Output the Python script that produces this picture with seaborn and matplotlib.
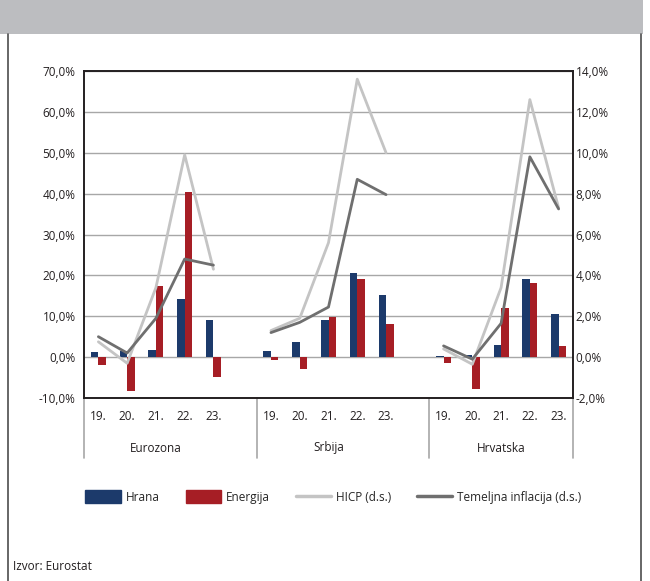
import numpy as np
import pandas as pd
import matplotlib
matplotlib.use("Agg")
import matplotlib.pyplot as plt
import seaborn as sns
from matplotlib.lines import Line2D
from matplotlib.patches import Patch, Rectangle

# data (left axis: bars, right axis: lines)
grupe = ['Eurozona', 'Srbija', 'Hrvatska']
godine = ['19.', '20.', '21.', '22.', '23.']
hrana = [1.2, 1.5, 1.8, 14.2, 9.1,
         1.5, 3.7, 9.1, 20.6, 15.1,
         0.2, 0.6, 3.0, 19.2, 10.6]
energija = [-2.0, -8.3, 17.3, 40.5, -4.9,
            -0.6, -2.9, 9.7, 19.2, 8.2,
            -1.4, -7.7, 11.9, 18.2, 2.7]
hicp = [0.75, -0.3, 3.4, 9.9, 4.3,
        1.3, 1.9, 5.6, 13.6, 10.0,
        0.4, -0.35, 3.4, 12.6, 7.3]
temeljna = [1.0, 0.2, 1.9, 4.8, 4.5,
            1.2, 1.7, 2.45, 8.7, 7.95,
            0.55, -0.1, 1.65, 9.8, 7.25]

col_hrana = '#1c3a6b'
col_energija = '#a61e25'
col_hicp = '#c4c4c4'
col_tem = '#6f6f6f'

# category slots: each group gets 5 years, plus an empty slot between groups
order = []
for i, g in enumerate(grupe):
    order += [g + ' ' + y for y in godine]
    if i < len(grupe) - 1:
        order.append(g + ' _')

rows = []
k = 0
for g in grupe:
    for y in godine:
        rows.append({'kat': g + ' ' + y, 'serija': 'Hrana', 'v': hrana[k]})
        rows.append({'kat': g + ' ' + y, 'serija': 'Energija', 'v': energija[k]})
        k += 1
bars = pd.DataFrame(rows)

lrows = []
k = 0
for g in grupe:
    for y in godine:
        lrows.append({'grupa': g, 'pos': order.index(g + ' ' + y),
                      'hicp': hicp[k], 'temeljna': temeljna[k]})
        k += 1
lines = pd.DataFrame(lrows)

sns.set_style('white')
plt.rcParams['font.family'] = ['Open Sans', 'DejaVu Sans']
plt.rcParams['font.size'] = 8.5

fig = plt.figure(figsize=(6.5, 5.81), dpi=100)
ax = fig.add_axes([84/650, 1-398/581, (573-84)/650, (398-71)/581])

sns.barplot(data=bars, x='kat', y='v', hue='serija', order=order,
            hue_order=['Hrana', 'Energija'],
            palette=[col_hrana, col_energija], width=0.52, gap=0,
            saturation=1, legend=False, ax=ax, zorder=3, linewidth=0)

ax.set_ylim(-10, 70)
ax.set_xlim(-0.5, len(order) - 0.5)
ax.set_yticks(np.arange(-10, 71, 10))
ax.set_yticklabels([f'{v:.1f}%'.replace('.', ',') for v in np.arange(-10, 71, 10)],
                   color='#231f20')
ax.yaxis.grid(True, color='#a7a7a7', lw=1.0)
ax.set_axisbelow(True)
ax.set_xlabel('')
ax.set_ylabel('')
ax.tick_params(axis='y', length=0, pad=6)

xt = [order.index(g + ' ' + y) for g in grupe for y in godine]
ax.set_xticks(xt)
ax.set_xticklabels(godine * 3, color='#231f20')
ax.tick_params(axis='x', length=0, pad=9)

for s in ax.spines.values():
    s.set_color('#231f20')
    s.set_linewidth(1.2)

# twin axis for the inflation lines
ax2 = ax.twinx()
sns.lineplot(data=lines, x='pos', y='hicp', units='grupa', estimator=None,
             color=col_hicp, lw=2.0, ax=ax2, zorder=4)
sns.lineplot(data=lines, x='pos', y='temeljna', units='grupa', estimator=None,
             color=col_tem, lw=2.0, ax=ax2, zorder=5)
ax2.set_ylim(-2, 14)
ax2.set_yticks(np.arange(-2, 15, 2))
ax2.set_yticklabels([f'{v:.1f}%'.replace('.', ',') for v in np.arange(-2, 15, 2)],
                    color='#231f20')
ax2.tick_params(axis='y', length=0, pad=2)
ax2.set_xlabel('')
ax2.set_ylabel('')
ax2.set_xlim(-0.5, len(order) - 0.5)
for s in ax2.spines.values():
    s.set_color('#231f20')
    s.set_linewidth(1.2)

# group labels and separators below the axis
trans = ax.get_xaxis_transform()
sep_x = [-0.5] + [order.index(g + ' _') + 0.5 for g in grupe[:-1]] + [len(order) - 0.5]
for x0 in sep_x:
    ax.plot([x0, x0], [0, -60/327], transform=trans, color='#a7a7a7',
            lw=1.2, clip_on=False)
for g in grupe:
    c = order.index(g + ' 21.')
    ax.text(c, -50/327, g, transform=trans, ha='center', va='center',
            color='#231f20')

# frame and grey header band
fig.add_artist(Rectangle((0, 1-34/581), 643/650, 34/581, transform=fig.transFigure,
                         color='#bcbdc0', lw=0))
for fx in [8/650, 641/650]:
    fig.add_artist(Line2D([fx, fx], [0, 1-34/581], transform=fig.transFigure,
                          color='#4d4d4d', lw=1.2))

handles = [Patch(color=col_hrana, label='Hrana'),
           Patch(color=col_energija, label='Energija'),
           Line2D([], [], color=col_hicp, lw=2.5, label='HICP (d.s.)'),
           Line2D([], [], color=col_tem, lw=2.5, label='Temeljna inflacija (d.s.)')]
fig.legend(handles=handles, loc='center', bbox_to_anchor=(0.513, 1-497/581),
           ncol=4, frameon=False, handlelength=3.0, handleheight=1.3,
           columnspacing=2.2, handletextpad=0.4, fontsize=8.5)

fig.text(13/650, 1-567/581, 'Izvor: Eurostat', ha='left', va='center',
         color='#231f20')

fig.savefig('out.png', dpi=100)
